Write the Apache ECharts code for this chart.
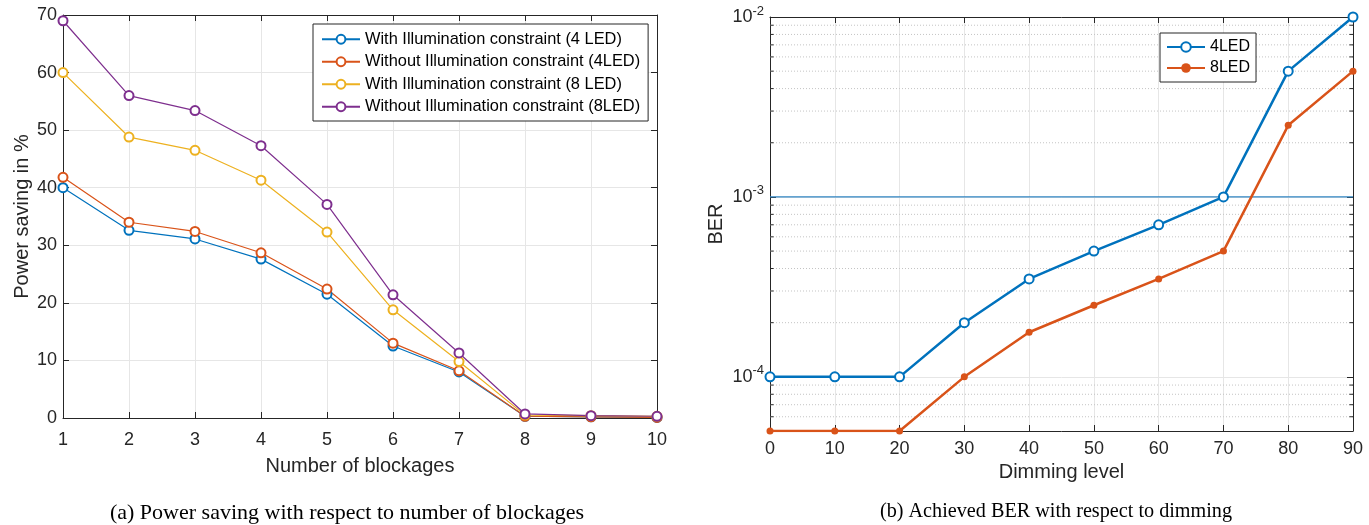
<!DOCTYPE html>
<html><head><meta charset="utf-8">
<script src="https://cdn.jsdelivr.net/npm/echarts@6/dist/echarts.min.js"></script>
<style>html,body{margin:0;padding:0;background:#fff}#c{width:1369px;height:525px}</style>
</head><body><div id="c"></div>
<script>
// ---- Left chart data ----
const blockages = [1,2,3,4,5,6,7,8,9,10];
const withIllum4 = [40.0,32.6,31.1,27.6,21.5,12.5,8.0,0.3,0.2,0.1];
const withoutIllum4 = [41.8,34.0,32.4,28.7,22.4,13.0,8.2,0.3,0.2,0.1];
const withIllum8 = [60.0,48.8,46.5,41.3,32.3,18.8,9.8,0.5,0.4,0.3];
const withoutIllum8 = [69.0,56.0,53.4,47.3,37.1,21.4,11.3,0.7,0.4,0.3];
const leftNames = ['With Illumination constraint (4 LED)','Without Illumination constraint (4LED)','With Illumination constraint (8 LED)','Without Illumination constraint (8LED)'];
// ---- Right chart data ----
const dimming = [0,10,20,30,40,50,60,70,80,90];
const ber4 = [1e-4,1e-4,1e-4,2e-4,3.5e-4,5e-4,7e-4,1e-3,5e-3,1e-2];
const ber8 = [5e-5,5e-5,5e-5,1e-4,1.77e-4,2.5e-4,3.5e-4,5e-4,2.5e-3,5e-3];
const berThreshold = 1e-3;
const berDecades = [-5,-4,-3];

const colors = ['#0072BD','#D95319','#EDB120','#7E2F8E'];
const SANS = '"Liberation Sans", Arial, sans-serif';
const SERIF = '"Liberation Serif", "Times New Roman", serif';
const tickColor = '#262626';

const zip = (xs, ys) => xs.map((x,i)=>[x, ys[i]]);
const minorVals = [];
berDecades.forEach(d => { for (let k=2;k<=9;k++){ const v = k*Math.pow(10,d); if (v>5e-5 && v<1e-2) minorVals.push(+v.toPrecision(3)); } });

const chart = echarts.init(document.getElementById('c'), null, {renderer:'canvas'});
const axisLabelStyle = {color:tickColor, fontFamily:SANS, fontSize:18};
const nameStyle = {fontFamily:SANS, fontSize:20, color:tickColor};
const boxLine = {show:true, onZero:false, lineStyle:{color:tickColor, width:1}};
const inTick = {show:true, inside:true, length:6, lineStyle:{color:tickColor}};

// helper series: minor dotted grid lines + minor ticks on the log axis (axis decoration)
const minorSeries = [];
minorVals.forEach(v => {
  minorSeries.push({type:'line', xAxisIndex:2, yAxisIndex:2, silent:true, symbol:'none', z:1,
    data:zip([0,90],[v,v]), lineStyle:{color:'#c4c4c4', type:[1,2], width:1}});
  minorSeries.push({type:'line', xAxisIndex:2, yAxisIndex:2, silent:true, symbol:'none', z:1,
    data:zip([0,0.55],[v,v]), lineStyle:{color:tickColor, width:1}});
  minorSeries.push({type:'line', xAxisIndex:2, yAxisIndex:2, silent:true, symbol:'none', z:1,
    data:zip([89.45,90],[v,v]), lineStyle:{color:tickColor, width:1}});
});

const option = {
  animation:false,
  backgroundColor:'#fff',
  title:[
    {text:'(a) Power saving with respect to number of blockages', left:342, top:497, textAlign:'center',
     textStyle:{fontFamily:SERIF, fontSize:22, fontWeight:'normal', color:'#000'}},
    {text:'(b) Achieved BER with respect to dimming', left:1051, top:497, textAlign:'center',
     textStyle:{fontFamily:SERIF, fontSize:20.2, fontWeight:'normal', color:'#000'}}
  ],
  grid:[
    {left:63, right:712, top:15, bottom:107, show:false},
    {left:770, right:16, top:17, bottom:94, show:false}
  ],
  legend:[
    {data:leftNames, orient:'vertical', left:313, top:24, width:336,
     itemWidth:38, itemHeight:11, itemGap:4, padding:[6,8,5,8],
     borderColor:'#262626', borderWidth:1, backgroundColor:'#fff',
     textStyle:{fontFamily:SANS, fontSize:16.4, color:'#000', lineHeight:18.5}},
    {data:['4LED','8LED'], orient:'vertical', left:1160, top:33,
     itemWidth:38, itemHeight:12, itemGap:3, padding:[5,6,5,6],
     borderColor:'#262626', borderWidth:1, backgroundColor:'#fff',
     textStyle:{fontFamily:SANS, fontSize:16, color:'#000', lineHeight:18}}
  ],
  xAxis:[
    {gridIndex:0, type:'value', min:1, max:10, interval:1, position:'bottom',
     axisLine:boxLine, axisTick:inTick,
     axisLabel:{...axisLabelStyle, margin:13},
     splitLine:{show:true, lineStyle:{color:'#e6e6e6'}},
     name:'Number of blockages', nameLocation:'middle', nameGap:38, nameTextStyle:nameStyle},
    {gridIndex:0, type:'value', min:1, max:10, interval:1, position:'top',
     axisLine:boxLine, axisTick:inTick, axisLabel:{show:false}, splitLine:{show:false}},
    {gridIndex:1, type:'value', min:0, max:90, interval:10, position:'bottom',
     axisLine:boxLine, axisTick:inTick,
     axisLabel:{...axisLabelStyle, margin:9},
     splitLine:{show:true, lineStyle:{color:'#e6e6e6'}},
     name:'Dimming level', nameLocation:'middle', nameGap:31, nameTextStyle:nameStyle},
    {gridIndex:1, type:'value', min:0, max:90, interval:10, position:'top',
     axisLine:boxLine, axisTick:inTick, axisLabel:{show:false}, splitLine:{show:false}}
  ],
  yAxis:[
    {gridIndex:0, type:'value', min:0, max:70, interval:10, position:'left',
     axisLine:boxLine, axisTick:inTick,
     axisLabel:{...axisLabelStyle, margin:6},
     splitLine:{show:true, lineStyle:{color:'#e6e6e6'}},
     name:'Power saving in %', nameLocation:'middle', nameGap:31, nameRotate:90, nameTextStyle:nameStyle},
    {gridIndex:0, type:'value', min:0, max:70, interval:10, position:'right',
     axisLine:boxLine, axisTick:inTick, axisLabel:{show:false}, splitLine:{show:false}},
    {gridIndex:1, type:'log', logBase:10, min:5e-5, max:1e-2, position:'left',
     axisLine:boxLine, axisTick:inTick,
     axisLabel:{...axisLabelStyle, margin:6, formatter:(v)=>{
        const e = Math.log10(v); const r = Math.round(e);
        if (Math.abs(e-r) > 1e-6) return '';
        return '{b|10}{s|' + r + '}';
     }, rich:{b:{fontFamily:SANS, fontSize:18, color:tickColor}, s:{fontFamily:SANS, fontSize:13, color:tickColor, padding:[0,0,12,0]}}},
     splitLine:{show:true, lineStyle:{color:'#e6e6e6'}},
     name:'BER', nameLocation:'middle', nameGap:44, nameRotate:90, nameTextStyle:nameStyle},
    {gridIndex:1, type:'log', logBase:10, min:5e-5, max:1e-2, position:'right',
     axisLine:boxLine, axisTick:inTick, axisLabel:{show:false}, splitLine:{show:false}}
  ],
  series:[
    ...[withIllum4, withoutIllum4, withIllum8, withoutIllum8].map((d,i)=>({
      name:leftNames[i], type:'line', xAxisIndex:0, yAxisIndex:0, data:zip(blockages,d),
      symbol:'emptyCircle', symbolSize:9, color:colors[i],
      lineStyle:{width:1.2, color:colors[i]}, itemStyle:{color:colors[i], borderWidth:1.2}
    })),
    ...minorSeries,
    {name:'threshold', type:'line', xAxisIndex:2, yAxisIndex:2, data:zip([0,90],[berThreshold,berThreshold]),
     symbol:'none', lineStyle:{width:1.3, color:'#2f84c2'}, silent:true},
    {name:'4LED', type:'line', xAxisIndex:2, yAxisIndex:2, data:zip(dimming,ber4),
     symbol:'emptyCircle', symbolSize:9, color:'#0072BD',
     lineStyle:{width:2.5}, itemStyle:{color:'#0072BD', borderWidth:2.2}},
    {name:'8LED', type:'line', xAxisIndex:2, yAxisIndex:2, data:zip(dimming,ber8),
     symbol:'circle', symbolSize:7, color:'#D95319',
     lineStyle:{width:2.5}, itemStyle:{color:'#D95319'}}
  ]
};
chart.setOption(option);
</script>
</body></html>
